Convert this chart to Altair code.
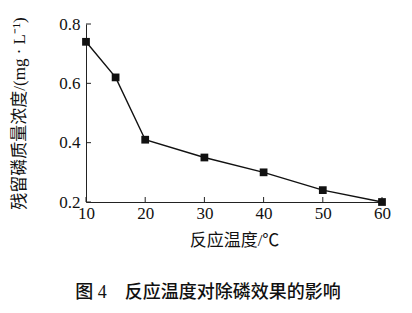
import altair as alt
import pandas as pd

temps = [10, 15, 20, 30, 40, 50, 60]
conc = [0.74, 0.62, 0.41, 0.35, 0.30, 0.24, 0.20]
x_ticks = [10, 20, 30, 40, 50, 60]
y_ticks = [0.2, 0.4, 0.6, 0.8]
x_title = "反应温度/℃"
y_title = "残留磷质量浓度/(mg · L⁻¹)"
caption = "图 4　反应温度对除磷效果的影响"

FONT = "Liberation Serif, Noto Sans CJK SC"
W, H = 296, 178

df = pd.DataFrame({"t": temps, "c": conc})
xs = alt.Scale(domain=[10, 60], nice=False, zero=False)
ys = alt.Scale(domain=[0.2, 0.8], nice=False, zero=False)

xaxis = alt.Axis(values=x_ticks, title=x_title, grid=False, ticks=False, labelFontSize=17,
                 titleFontSize=17, labelPadding=3, titlePadding=11, domainColor="#222",
                 labelColor="#111", titleColor="#111", labelFont=FONT, titleFont=FONT,
                 titleFontWeight="normal", labelFlush=False, labelOverlap=False)
yaxis = alt.Axis(values=y_ticks, title=y_title, grid=False, ticks=False, format=".1f",
                 labelFontSize=17, titleFontSize=17, labelPadding=6, titlePadding=30,
                 domainColor="#222", labelColor="#111", titleColor="#111",
                 labelFont=FONT, titleFont=FONT, titleFontWeight="normal",
                 labelFlush=False, labelOverlap=False)

line = alt.Chart(df).mark_line(color="#111", strokeWidth=1.4).encode(
    x=alt.X("t:Q", scale=xs, axis=xaxis),
    y=alt.Y("c:Q", scale=ys, axis=yaxis),
)
pts = alt.Chart(df).mark_point(shape="square", filled=True, color="#111", size=60, opacity=1).encode(
    x=alt.X("t:Q", scale=xs), y=alt.Y("c:Q", scale=ys)
)
xt = alt.Chart(pd.DataFrame({"v": x_ticks})).mark_rule(color="#222", strokeWidth=1).encode(
    x=alt.X("v:Q", scale=xs), y=alt.value(H), y2=alt.value(H - 5)
)
yt = alt.Chart(pd.DataFrame({"v": y_ticks})).mark_rule(color="#222", strokeWidth=1).encode(
    y=alt.Y("v:Q", scale=ys), x=alt.value(0), x2=alt.value(5)
)
cap = alt.Chart(pd.DataFrame({"s": [caption]})).mark_text(
    font=FONT, fontSize=18, fontWeight=500, color="#111", align="center", baseline="middle"
).encode(text="s:N", x=alt.value(122), y=alt.value(269))

chart = alt.layer(line, xt, yt, pts, cap).properties(
    width=W, height=H, autosize=alt.AutoSizeParams(type="none"),
    padding={"left": 86, "top": 24, "right": 30, "bottom": 111},
    background="white",
).configure_view(stroke=None)

chart.save("out.html", embed_options={"renderer": "svg", "actions": False})
